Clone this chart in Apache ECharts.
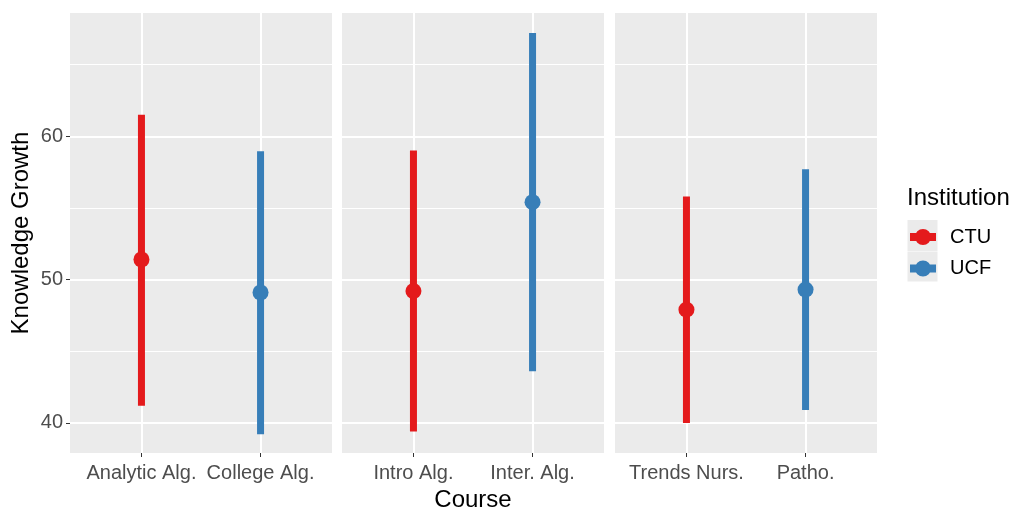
<!DOCTYPE html>
<html>
<head>
<meta charset="utf-8">
<script src="https://cdn.jsdelivr.net/npm/echarts@6/dist/echarts.min.js"></script>
<style>html,body{margin:0;padding:0;background:#fff;}#c{width:1020px;height:508px;}</style>
</head>
<body>
<div id="c"></div>
<script>
// ---- data ----
const courses = ['Analytic Alg.', 'College Alg.', 'Intro Alg.', 'Inter. Alg.', 'Trends Nurs.', 'Patho.'];
const institutions = ['CTU', 'UCF', 'CTU', 'UCF', 'CTU', 'UCF'];
const panelOf = [0, 0, 1, 1, 2, 2];
const slotOf = [0, 1, 0, 1, 0, 1];
const means = [51.4, 49.1, 49.2, 55.4, 47.9, 49.3];
const lows = [41.2, 39.2, 39.4, 43.6, 40.0, 40.9];
const highs = [61.5, 58.95, 59.0, 67.2, 55.8, 57.7];
const yMajorTicks = [40, 50, 60];
const yMinorLines = [45, 55, 65];
const yMin = 37.9, yMax = 68.6;
const instColors = { CTU: '#E41A1C', UCF: '#377EB8' };

const FONT = 'Liberation Sans, Arial, sans-serif';
const panelLefts = [70, 342, 615];
const panelWidth = 262;
const panelTop = 13, panelHeight = 440;

const grids = [], xAxes = [], yAxes = [], series = [];
panelLefts.forEach((left, p) => {
  grids.push({ left: left, top: panelTop, width: panelWidth, height: panelHeight, show: true,
    backgroundColor: '#EBEBEB', borderWidth: 0, containLabel: false, outerBoundsMode: 'none' });
  const names = courses.filter((c, i) => panelOf[i] === p);
  xAxes.push({
    type: 'value', gridIndex: p, min: -0.6, max: 1.6,
    axisLine: { show: false, onZero: false },
    axisTick: { show: true, length: 4, lineStyle: { color: '#333333', width: 1 }, customValues: [0, 1] },
    axisLabel: { show: true, customValues: [0, 1], margin: 10, color: '#4D4D4D', fontSize: 20, fontFamily: FONT,
      formatter: v => names[Math.round(v)] || '' },
    splitLine: { show: true, lineStyle: { color: '#FFFFFF', width: 2 } },
    name: p === 1 ? 'Course' : '', nameLocation: 'middle', nameGap: 32,
    nameTextStyle: { color: '#000', fontSize: 24, fontFamily: FONT }
  });
  yAxes.push({
    type: 'value', gridIndex: p, min: yMin, max: yMax,
    axisLine: { show: false, onZero: false },
    axisTick: { show: p === 0, length: 4, lineStyle: { color: '#333333', width: 1 }, customValues: yMajorTicks },
    axisLabel: { show: p === 0, customValues: yMajorTicks, margin: 7, color: '#4D4D4D', fontSize: 20, fontFamily: FONT },
    splitLine: { show: true, lineStyle: { color: '#FFFFFF', width: 2 } },
    name: p === 0 ? 'Knowledge Growth' : '', nameLocation: 'middle', nameGap: 37, nameRotate: 90,
    nameTextStyle: { color: '#000', fontSize: 24, fontFamily: FONT }
  });
  // minor grid lines
  series.push({
    type: 'line', name: 'minor' + p, xAxisIndex: p, yAxisIndex: p, data: [], silent: true, z: 1,
    markLine: { silent: true, symbol: 'none', z: 1, label: { show: false },
      lineStyle: { color: '#FFFFFF', width: 1, type: 'solid' },
      data: yMinorLines.map(v => ({ yAxis: v })) }
  });
});

courses.forEach((c, i) => {
  const inst = institutions[i];
  series.push({
    type: 'custom', name: inst, xAxisIndex: panelOf[i], yAxisIndex: panelOf[i], z: 10,
    itemStyle: { color: instColors[inst] },
    encode: { x: 0, y: [1, 2, 3] },
    data: [[slotOf[i], lows[i], means[i], highs[i]]],
    renderItem: function (params, api) {
      const x = api.value(0);
      const lo = api.coord([x, api.value(1)]);
      const m = api.coord([x, api.value(2)]);
      const hi = api.coord([x, api.value(3)]);
      const color = api.visual('color');
      return { type: 'group', children: [
        { type: 'line', shape: { x1: lo[0], y1: lo[1], x2: hi[0], y2: hi[1] },
          style: { stroke: color, lineWidth: 7, lineCap: 'butt' } },
        { type: 'circle', shape: { cx: m[0], cy: m[1], r: 8 }, style: { fill: color } }
      ] };
    }
  });
});

const chart = echarts.init(document.getElementById('c'), null, { renderer: 'canvas' });
chart.setOption({
  animation: false,
  backgroundColor: '#FFFFFF',
  title: { text: 'Institution', left: 907, top: 186, padding: 0,
    textStyle: { color: '#000', fontSize: 24, fontWeight: 'normal', fontFamily: FONT } },
  graphic: [
    { type: 'rect', shape: { x: 907.5, y: 220, width: 30, height: 31 }, style: { fill: '#EBEBEB' }, z: -1 },
    { type: 'rect', shape: { x: 907.5, y: 251.5, width: 30, height: 30 }, style: { fill: '#EBEBEB' }, z: -1 }
  ],
  legend: {
    data: ['CTU', 'UCF'], orient: 'vertical', left: 910, top: 227, itemGap: 11.5, padding: 0,
    itemWidth: 26, itemHeight: 16,
    icon: 'path://M0,4H26V12H0Z M5,8A8,8 0 1,1 21,8A8,8 0 1,1 5,8Z',
    textStyle: { color: '#000', fontSize: 20, fontFamily: FONT, lineHeight: 20, padding: [0, 0, 0, 9] },
    selectedMode: false
  },
  grid: grids,
  xAxis: xAxes,
  yAxis: yAxes,
  series: series
});
</script>
</body>
</html>
